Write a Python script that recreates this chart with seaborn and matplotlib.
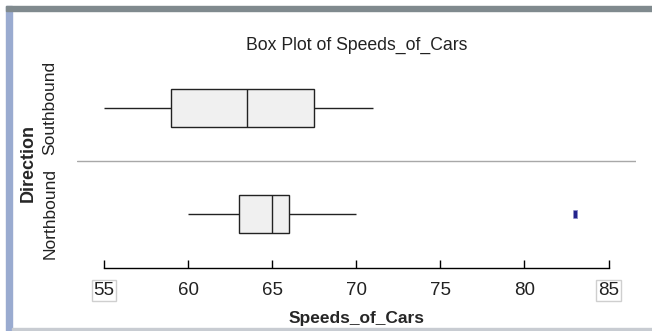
import matplotlib.pyplot as plt
import seaborn as sns
import pandas as pd
from matplotlib.patches import Rectangle

# speeds (quartiles / whiskers / outlier)
directions = ["Southbound", "Northbound"]
southbound = [55, 57, 59, 59, 63, 64, 66, 68, 70, 71]
northbound = [60, 62, 63, 63, 64, 65, 65, 66, 66, 70, 83]
x_ticks = [55, 60, 65, 70, 75, 80, 85]

df = pd.DataFrame({
    "Speeds_of_Cars": southbound + northbound,
    "Direction": ["Southbound"] * len(southbound) + ["Northbound"] * len(northbound),
})

sns.set_style("white")
plt.rcParams['font.family'] = ['Liberation Sans', 'DejaVu Sans']

fig = plt.figure(figsize=(6.52, 3.31), dpi=100)
ax = fig.add_axes([77 / 652, 1 - 268 / 331, 559 / 652, 208 / 331])

flier_marker = [(-0.3, -0.6), (0.3, -0.6), (0.3, 0.6), (-0.3, 0.6)]
sns.boxplot(data=df, x="Speeds_of_Cars", y="Direction", order=directions,
            orient='h', width=0.36, color='#f0f0f0', saturation=1,
            linecolor='#222222', linewidth=1, showcaps=False, whis=1.5,
            flierprops=dict(marker=flier_marker, markersize=6,
                            markerfacecolor='#23238c', markeredgecolor='#8c8cc8',
                            markeredgewidth=0.6),
            ax=ax)

ax.set_xlim(55 - 27 / 16.83, 85 + 27.5 / 16.83)
ax.set_ylim(1.51, -0.45)
ax.axhline(0.5, color='#a8a8a8', lw=1)

for s in ['left', 'top', 'right']:
    ax.spines[s].set_visible(False)
ax.spines['bottom'].set_bounds(55, 85)
ax.spines['bottom'].set_color('black')
ax.spines['bottom'].set_linewidth(1)

ax.set_xticks(x_ticks)
ax.set_xticklabels([str(t) for t in x_ticks])
ax.tick_params(axis='x', bottom=True, direction='in', length=6, width=1,
               color='black', pad=10, labelsize=13.5, labelcolor='#222222')
ax.tick_params(axis='y', left=False, length=0, pad=14, labelsize=12.5,
               labelcolor='#222222')
for lbl in ax.get_yticklabels():
    lbl.set_rotation(90)
    lbl.set_va('center')
for lbl in (ax.get_xticklabels()[0], ax.get_xticklabels()[-1]):
    lbl.set_bbox(dict(facecolor='white', edgecolor='#cfcfcf', pad=1.2, lw=1))

ax.set_title("Box Plot of Speeds_of_Cars", fontsize=12.7, pad=7, color='#222222')
ax.set_xlabel("Speeds_of_Cars", fontsize=12.5, fontweight='bold', labelpad=9)
ax.set_ylabel("Direction", fontsize=13, fontweight='bold')
ax.yaxis.set_label_coords((37 - 77) / 559, 0.505)

# window frame around the chart
fig.patches.append(Rectangle((5.7 / 652, 0), 6.6 / 652, 1 - 5.7 / 331,
                             transform=fig.transFigure, color='#9aabd0', zorder=0))
fig.patches.append(Rectangle((5.7 / 652, 1 - 11 / 331), 1 - 5.7 / 652, 5.3 / 331,
                             transform=fig.transFigure, color='#808a8e', zorder=0))
fig.patches.append(Rectangle((12.3 / 652, 1 - 329.5 / 331), 1, 1.6 / 331,
                             transform=fig.transFigure, color='#c8ccd2', zorder=0))

fig.savefig("out.png", dpi=100)
